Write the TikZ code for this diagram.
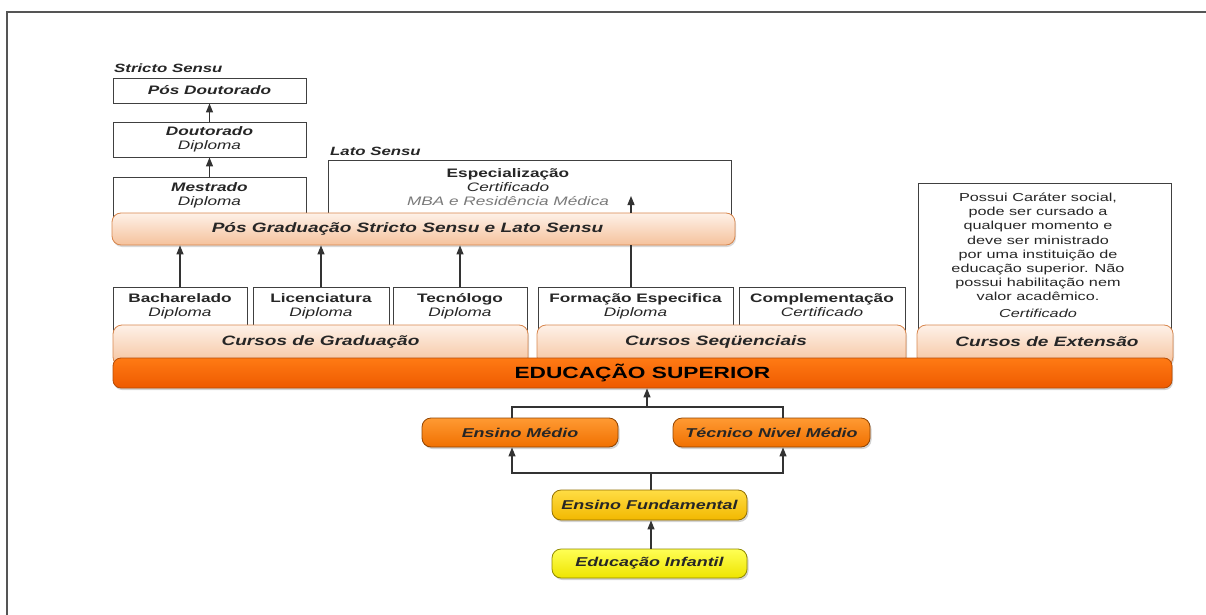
\documentclass[tikz,border=0pt]{standalone}
\usepackage{fontspec}
\setmainfont{Liberation Sans}[FakeStretch=1.4]
\usetikzlibrary{arrows.meta,shadows}

\definecolor{inkgray}{HTML}{262626}
\definecolor{mbagray}{HTML}{7A7A7A}
\definecolor{framegray}{HTML}{555555}
\definecolor{peachtop}{HTML}{FEF1E8}
\definecolor{peachbot}{HTML}{F5C29C}
\definecolor{peachline}{HTML}{D8874E}
\definecolor{supertop}{HTML}{FF7A14}
\definecolor{superbot}{HTML}{EE5A00}
\definecolor{superline}{HTML}{B54C06}
\definecolor{mediotop}{HTML}{FF9A33}
\definecolor{mediobot}{HTML}{F07000}
\definecolor{fundtop}{HTML}{FFDD44}
\definecolor{fundbot}{HTML}{F2B800}
\definecolor{inftop}{HTML}{FFFF55}
\definecolor{infbot}{HTML}{EEE400}

\tikzset{
  box/.style={draw=black!75, fill=white, line width=0.9pt, inner sep=0pt},
  boxtxt/.style={align=center, inner sep=0pt, text=inkgray,
    font=\fontsize{12.3}{14}\selectfont},
  grouplbl/.style={inner sep=0pt, text=inkgray,
    font=\fontsize{12}{14}\selectfont\bfseries\itshape},
  bar/.style={draw=peachline, line width=0.8pt, rounded corners=9pt,
    top color=peachtop, bottom color=peachbot, inner sep=0pt,
    drop shadow={shadow xshift=1pt, shadow yshift=-2pt, opacity=0.3}},
  barlbl/.style={inner sep=0pt, text=inkgray,
    font=\fontsize{13.6}{15}\selectfont\bfseries\itshape},
  level/.style={draw=#1bot!60!black, line width=0.8pt, rounded corners=9pt,
    top color=#1top, bottom color=#1bot, inner sep=0pt, text=black!85,
    font=\fontsize{12.8}{15}\selectfont\bfseries\itshape,
    drop shadow={shadow xshift=1.5pt, shadow yshift=-2pt, opacity=0.35}},
  link/.style={draw=black!80, line width=1.2pt},
  arr/.style={link, -{Triangle[length=9pt,width=7pt]}}
}

\begin{document}
\begin{tikzpicture}[x=1pt, y=-1pt]
  \useasboundingbox (0,0) rectangle (1206,615);

  % frame of the figure
  \draw[framegray, line width=2pt] (7,617) -- (7,12) -- (1206,12);

  % Stricto Sensu column
  \node[grouplbl, anchor=west] (strictoLbl) at (114,68) {Stricto Sensu};
  \node[box, minimum width=193pt, minimum height=25pt, boxtxt]
    (posdoc) at (209.5,90.5) {\bfseries\itshape Pós Doutorado};
  \node[box, minimum width=193pt, minimum height=35pt, boxtxt]
    (doutorado) at (209.5,139.5) {{\bfseries\itshape Doutorado}\\{\itshape Diploma}};
  \node[box, minimum width=193pt, minimum height=48pt] (mestrado) at (209.5,201) {};
  \node[boxtxt, anchor=north] (mestradoTxt) at ([yshift=-6pt]mestrado.north)
    {{\bfseries\itshape Mestrado}\\{\itshape Diploma}};

  % Lato Sensu
  \node[grouplbl, anchor=west] (latoLbl) at (330,151) {Lato Sensu};
  \node[box, minimum width=403pt, minimum height=65pt] (espec) at (529.5,192.5) {};
  \node[boxtxt, anchor=north] (especTxt) at (508,168)
    {{\bfseries Especialização}\\{\itshape Certificado}\\{\color{mbagray}\itshape MBA e Residência Médica}};

  % Extensao
  \node[box, minimum width=253pt, minimum height=152pt] (extBox) at (1044.5,259) {};
  \node[boxtxt, anchor=north, font=\fontsize{11.6}{14.1}\selectfont] (extTxt) at (1038,193)
    {Possui Caráter social,\\pode ser cursado a\\qualquer momento e\\deve ser ministrado\\
     por uma instituição de\\educação superior. Não\\possui habilitação nem\\valor acadêmico.\\[3pt]
     {\itshape Certificado}};

  % graduacao and sequenciais boxes
  \node[box, minimum width=134pt, minimum height=48pt] (bach) at (180,311) {};
  \node[box, minimum width=136pt, minimum height=48pt] (lic) at (321,311) {};
  \node[box, minimum width=134pt, minimum height=48pt] (tec) at (460,311) {};
  \node[box, minimum width=195pt, minimum height=48pt] (form) at (635.5,311) {};
  \node[box, minimum width=166pt, minimum height=48pt] (compl) at (822,311) {};
  \node[boxtxt, anchor=north] (bachTxt) at ([yshift=-7pt]bach.north)
    {{\bfseries Bacharelado}\\{\itshape Diploma}};
  \node[boxtxt, anchor=north] (licTxt) at ([yshift=-7pt]lic.north)
    {{\bfseries Licenciatura}\\{\itshape Diploma}};
  \node[boxtxt, anchor=north] (tecTxt) at ([yshift=-7pt]tec.north)
    {{\bfseries Tecnólogo}\\{\itshape Diploma}};
  \node[boxtxt, anchor=north] (formTxt) at ([yshift=-7pt]form.north)
    {{\bfseries Formação Especifica}\\{\itshape Diploma}};
  \node[boxtxt, anchor=north] (complTxt) at ([yshift=-7pt]compl.north)
    {{\bfseries Complementação}\\{\itshape Certificado}};

  % Pos graduacao bar
  \node[bar, minimum width=623pt, minimum height=32pt] (posgrad) at (423.5,229) {};
  \node[barlbl] (posgradLbl) at ([xshift=-16pt]posgrad.center)
    {Pós Graduação Stricto Sensu e Lato Sensu};

  % cursos bars (bottom hidden under the superior bar)
  \node[bar, minimum width=415pt, minimum height=41pt] (grad) at (320.5,345.5) {};
  \node[bar, minimum width=369pt, minimum height=41pt] (seq) at (721.5,345.5) {};
  \node[bar, minimum width=256pt, minimum height=41pt] (ext) at (1045,345.5) {};
  \node[barlbl] (gradLbl) at (320.5,341.5) {Cursos de Graduação};
  \node[barlbl] (seqLbl) at (716,341.5) {Cursos Seqüenciais};
  \node[barlbl] (extLbl) at (1047,341.5) {Cursos de Extensão};

  % Educacao superior
  \node[draw=superline, line width=0.8pt, rounded corners=8pt,
    top color=supertop, bottom color=superbot,
    minimum width=1059pt, minimum height=30pt, inner sep=0pt,
    drop shadow={shadow xshift=1pt, shadow yshift=-2pt, opacity=0.35},
    font=\fontsize{16.2}{18}\selectfont\bfseries, text=black]
    (superior) at (642.5,373) {EDUCAÇÃO SUPERIOR};

  % basic levels
  \node[level=medio, minimum width=196pt, minimum height=29pt] (medio) at (520,432.5) {Ensino Médio};
  \node[level=medio, minimum width=197pt, minimum height=29pt] (tecnico) at (771.5,432.5) {Técnico Nivel Médio};
  \node[level=fund, minimum width=195pt, minimum height=30pt] (fund) at (649.5,505) {Ensino Fundamental};
  \node[level=inf, minimum width=195pt, minimum height=29pt] (infantil) at (649.5,563.5) {Educação Infantil};

  % connectors
  \coordinate (especTip) at (631,196);
  \coordinate (upJoin) at (647,407);
  \coordinate (lowJoin) at (651,473);
  \coordinate (medioX) at (512,0);
  \coordinate (tecX) at (783,0);

  \draw[arr] (mestrado.north) -- (doutorado.south);
  \draw[arr] (doutorado.north) -- (posdoc.south);
  \draw[arr] (bach.north) -- (bach.north |- posgrad.south);
  \draw[arr] (lic.north) -- (lic.north |- posgrad.south);
  \draw[arr] (tec.north) -- (tec.north |- posgrad.south);
  \draw[link] (form.north -| especTip) -- (posgrad.south -| especTip);
  \draw[arr] (posgrad.north -| especTip) -- (especTip);

  \draw[link] (medio.north -| medioX) |- (upJoin) -| (tecnico.north -| tecX);
  \draw[arr] (upJoin) -- (superior.south -| upJoin);
  \draw[link] (fund.north -| lowJoin) -- (lowJoin);
  \draw[arr] (lowJoin) -| (medio.south -| medioX);
  \draw[arr] (lowJoin) -| (tecnico.south -| tecX);
  \draw[arr] (infantil.north -| lowJoin) -- (fund.south -| lowJoin);
\end{tikzpicture}
\end{document}
